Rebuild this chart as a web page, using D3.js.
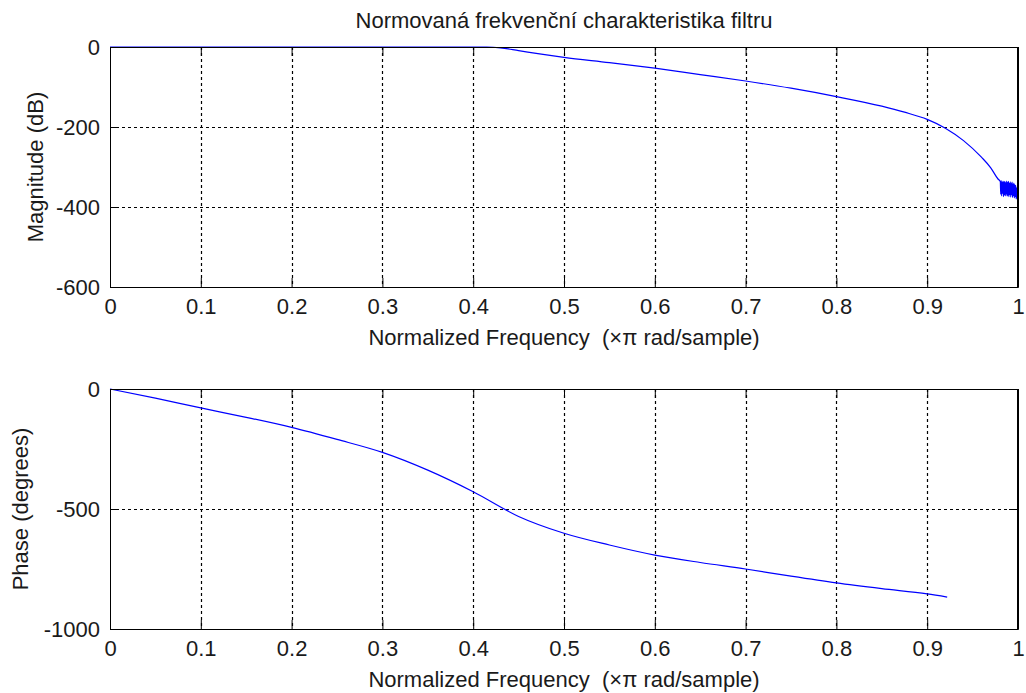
<!DOCTYPE html>
<html>
<head>
<meta charset="utf-8">
<script src="https://cdn.jsdelivr.net/npm/d3@7"></script>
<style>
  body { margin: 0; background: #fff; }
  text { font-family: "Liberation Sans", Arial, sans-serif; fill: #1a1a1a; white-space: pre; }
</style>
</head>
<body>
<div id="chart"></div>
<script>
// Data
var magFreq = [0, 0.1, 0.2, 0.3, 0.4, 0.415, 0.43, 0.45, 0.475, 0.5, 0.55, 0.6, 0.65, 0.7, 0.75, 0.8, 0.85, 0.875, 0.9, 0.92, 0.94, 0.96, 0.97, 0.978,
  0.9805, 0.981, 0.9815, 0.982, 0.9825, 0.983, 0.9835, 0.984, 0.9845, 0.985, 0.9855, 0.986, 0.9865, 0.987, 0.9875, 0.988,
  0.9885, 0.989, 0.9895, 0.990, 0.9905, 0.991, 0.9915, 0.992, 0.9925, 0.993, 0.9935, 0.994, 0.9945, 0.995, 0.9955, 0.996,
  0.9965, 0.997, 0.9975, 0.998, 0.9985, 0.999, 0.9995, 1.0];
var magDb   = [0, 0, 0, 0, 0, 0, -2, -9, -18, -26, -39, -53, -69, -85, -103, -124, -148, -163, -181, -203, -234, -276, -302, -330,
  -336, -368, -334, -372, -338, -366, -335, -374, -337, -370, -336, -372, -339, -368, -335, -373, -338, -371,
  -336, -374, -340, -369, -337, -375, -341, -370, -338, -376, -342, -372, -340, -377, -344, -374, -346, -380,
  -352, -378, -365, -402];

var phFreq  = [0, 0.05, 0.1, 0.15, 0.2, 0.25, 0.3, 0.35, 0.4, 0.45, 0.5, 0.55, 0.6, 0.65, 0.7, 0.75, 0.8, 0.85, 0.9, 0.922];
var phDeg   = [0, -38, -79, -118, -160, -210, -264, -338, -428, -531, -601, -650, -692, -723, -750, -780, -808, -832, -854, -867];

var xTicks  = [0, 0.1, 0.2, 0.3, 0.4, 0.5, 0.6, 0.7, 0.8, 0.9, 1];
var magTicks = [-600, -400, -200, 0];
var phTicks  = [-1000, -500, 0];

var title  = "Normovaná frekvenční charakteristika filtru";
var xLabel = "Normalized Frequency  (\u00d7\u03c0 rad/sample)";

var W = 1026, H = 693;
var fs = '22px';
var svg = d3.select('#chart').append('svg')
  .attr('width', W)
  .attr('height', H);

var left = 110, right = 1018;
var x = d3.scaleLinear().domain([0, 1]).range([left, right]);

function drawPanel(top, bottom, yDomain, yTicks, xs, ys, ylab, ylabX) {
  var y = d3.scaleLinear().domain(yDomain).range([bottom, top]);
  var g = svg.append('g');

  // grid (dotted)
  g.selectAll('.vgrid').data(xTicks.slice(1, -1)).enter().append('line')
    .attr('x1', d => Math.round(x(d)) + 0.5).attr('x2', d => Math.round(x(d)) + 0.5)
    .attr('y1', top).attr('y2', bottom)
    .attr('stroke', '#000').attr('stroke-width', 1.2).attr('stroke-dasharray', '3,3');
  g.selectAll('.hgrid').data(yTicks.slice(1, -1)).enter().append('line')
    .attr('y1', d => Math.round(y(d)) + 0.5).attr('y2', d => Math.round(y(d)) + 0.5)
    .attr('x1', left).attr('x2', right)
    .attr('stroke', '#000').attr('stroke-width', 1.2).attr('stroke-dasharray', '3,3');

  // data line
  var line = d3.line().curve(d3.curveMonotoneX).x(d => x(d[0])).y(d => y(d[1]));
  g.append('path')
    .datum(xs.map((v, i) => [v, ys[i]]))
    .attr('d', line)
    .attr('fill', 'none')
    .attr('stroke', '#0000ff')
    .attr('stroke-width', 1.2);

  // axes with inward ticks
  var tl = 9;
  g.append('g').attr('transform', 'translate(0,' + bottom + ')')
    .call(d3.axisBottom(x).tickValues(xTicks).tickSizeInner(-tl).tickSizeOuter(0).tickPadding(11)
      .tickFormat(d => String(d)));
  g.append('g').attr('transform', 'translate(0,' + top + ')')
    .call(d3.axisTop(x).tickValues(xTicks).tickSizeInner(-tl).tickSizeOuter(0).tickFormat(''));
  g.append('g').attr('transform', 'translate(' + left + ',0)')
    .call(d3.axisLeft(y).tickValues(yTicks).tickSizeInner(-tl).tickSizeOuter(0).tickPadding(10)
      .tickFormat(d => String(d)));
  g.append('g').attr('transform', 'translate(' + right + ',0)')
    .call(d3.axisRight(y).tickValues(yTicks).tickSizeInner(-tl).tickSizeOuter(0).tickFormat(''));

  g.selectAll('.domain').attr('stroke', '#000');
  g.selectAll('.tick line').attr('stroke', '#000');
  g.selectAll('.tick text').style('font-size', fs).attr('fill', '#1a1a1a')
    .style('font-family', '"Liberation Sans", Arial, sans-serif');

  // box
  g.append('rect')
    .attr('x', left + 0.5).attr('y', top + 0.5)
    .attr('width', right - left - 1).attr('height', bottom - top)
    .attr('fill', 'none').attr('stroke', '#000');

  // labels
  g.append('text')
    .attr('x', (left + right) / 2).attr('y', bottom + 58)
    .attr('text-anchor', 'middle').style('font-size', fs)
    .text(xLabel);
  g.append('text')
    .attr('transform', 'translate(' + ylabX + ',' + (top + bottom) / 2 + ') rotate(-90)')
    .attr('text-anchor', 'middle').style('font-size', fs)
    .text(ylab);
}

drawPanel(47, 287, [-600, 0], magTicks, magFreq, magDb, 'Magnitude (dB)', 43);
drawPanel(389, 629, [-1000, 0], phTicks, phFreq, phDeg, 'Phase (degrees)', 28);

svg.append('text')
  .attr('x', (left + right) / 2).attr('y', 28)
  .attr('text-anchor', 'middle').style('font-size', fs)
  .text(title);
</script>
</body>
</html>
